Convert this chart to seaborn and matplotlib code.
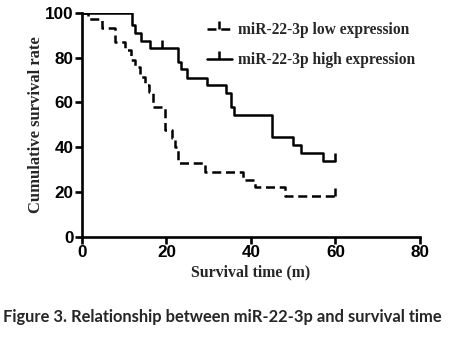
import matplotlib
matplotlib.use("Agg")
import matplotlib.pyplot as plt
from matplotlib.lines import Line2D
import seaborn as sns
import pandas as pd

# Kaplan-Meier step data (time in months, survival %)
low_time = [0, 1.5, 4.8, 7.8, 10.2, 11.7, 12.5, 13.7, 14.9, 15.8, 16.9, 19.6, 21.2, 22.0, 22.8, 29.1, 38.2, 40.9, 48.0, 60.0]
low_surv = [100, 97.0, 93.0, 86.7, 83.3, 78.9, 75.9, 71.4, 67.7, 64.7, 58.0, 47.6, 43.9, 40.2, 32.8, 29.0, 25.3, 22.0, 18.2, 18.2]
high_time = [0, 11.9, 12.5, 13.9, 16.1, 22.8, 23.4, 24.9, 29.6, 34.2, 35.3, 36.0, 45.0, 50.0, 51.9, 57.0, 60.0]
high_surv = [100, 94.5, 90.8, 87.5, 84.1, 78.1, 74.7, 71.0, 67.7, 64.3, 57.9, 54.5, 44.5, 40.9, 37.4, 33.9, 33.9]
low_cens_t = [60.0]
low_cens_s = [18.2]
high_cens_t = [19.0, 60.0]
high_cens_s = [84.1, 33.9]

labels = ["miR-22-3p low expression", "miR-22-3p high expression"]
xticks = [0, 20, 40, 60, 80]
yticks = [0, 20, 40, 60, 80, 100]

sns.set_style("ticks")
plt.rcParams["font.family"] = ["Liberation Serif", "DejaVu Serif"]

fig = plt.figure(figsize=(4.72, 3.48), dpi=100)
ax = fig.add_axes([0.1737, 0.3198, 0.7161, 0.6437])

low_df = pd.DataFrame({"t": low_time, "s": low_surv})
high_df = pd.DataFrame({"t": high_time, "s": high_surv})

lw = 1.8
dash = (0, (3.6, 1.9))
sns.lineplot(data=low_df, x="t", y="s", ax=ax, color="black", lw=lw,
             drawstyle="steps-post", linestyle=dash, sort=False)
sns.lineplot(data=high_df, x="t", y="s", ax=ax, color="black", lw=lw,
             drawstyle="steps-post", sort=False)
ax.plot(low_cens_t, low_cens_s, ls="none", marker=2, ms=6, mew=lw, color="black")
ax.plot(high_cens_t, high_cens_s, ls="none", marker=2, ms=6, mew=lw, color="black")

ax.set_xlim(0, 80)
ax.set_ylim(0, 100)
ax.set_xticks(xticks)
ax.set_yticks(yticks)
ax.set_xticklabels([str(v) for v in xticks], family="Liberation Sans", fontweight="bold", fontsize=12.3)
ax.set_yticklabels([str(v) for v in yticks], family="Liberation Sans", fontweight="bold", fontsize=12.3)
ax.tick_params(axis="both", direction="out", length=5, width=1.9, pad=1, colors="black")
for sp in ["top", "right"]:
    ax.spines[sp].set_visible(False)
for sp in ["left", "bottom"]:
    ax.spines[sp].set_linewidth(1.9)
    ax.spines[sp].set_color("black")
ax.spines["left"].set_zorder(5)

ax.set_xlabel("Survival time (m)", fontsize=11.4, fontweight="bold", labelpad=3)
ax.set_ylabel("Cumulative survival rate", fontsize=12, fontweight="bold", labelpad=1)

handles = [
    Line2D([], [], color="black", lw=lw, linestyle=dash, marker=2, ms=6, mew=lw),
    Line2D([], [], color="black", lw=lw, marker=2, ms=6, mew=lw),
]
leg = ax.legend(handles, labels, loc="upper left", bbox_to_anchor=(0.37, 0.958),
                frameon=False, fontsize=11.2, numpoints=1, handlelength=1.6,
                handletextpad=0.4, labelspacing=0.9, borderpad=0, borderaxespad=0)
for t in leg.get_texts():
    t.set_fontweight("bold")

fig.text(0.006, 0.09, "Figure 3. Relationship between miR-22-3p and survival time",
         family=["Lato", "DejaVu Sans"], fontweight="bold", fontsize=11.9, ha="left", va="center")

fig.savefig("out.png", dpi=100)
